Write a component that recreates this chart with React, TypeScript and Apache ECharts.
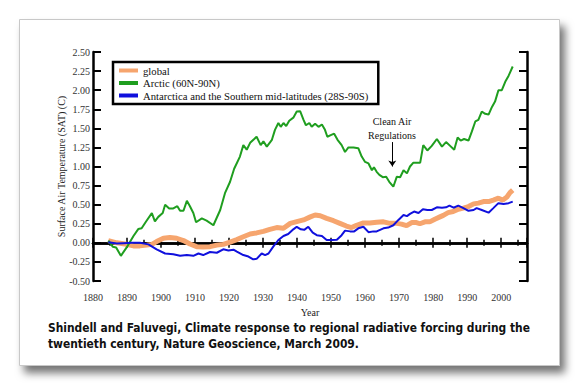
import React, { useEffect, useRef } from "react";
import * as echarts from "echarts";

const seriesNames = [
  "global",
  "Arctic (60N-90N)",
  "Antarctica and the Southern mid-latitudes (28S-90S)",
];

const globalData: [number, number][] = [
  [1884.5, 0.03], [1887, 0.0], [1889.4, -0.015], [1891.9, -0.04], [1893.8, -0.04],
  [1895.8, -0.03], [1897.3, -0.02], [1898.7, 0.016], [1900.7, 0.06], [1902.6, 0.07],
  [1904.6, 0.06], [1906.6, 0.03], [1908.5, -0.015], [1910.5, -0.05], [1912.4, -0.055],
  [1914.4, -0.05], [1916.4, -0.03], [1918.3, -0.02], [1920.3, 0.01], [1922.3, 0.043],
  [1924.2, 0.08], [1926.2, 0.116], [1928.1, 0.13], [1930.1, 0.15], [1932, 0.177],
  [1934, 0.2], [1936, 0.19], [1938, 0.255], [1939.9, 0.277], [1941.9, 0.3],
  [1943.9, 0.34], [1945.3, 0.365], [1946.8, 0.355], [1948.7, 0.32], [1950.7, 0.29],
  [1952.6, 0.255], [1954.5, 0.22], [1956, 0.2], [1957.5, 0.23], [1959.5, 0.26],
  [1961.4, 0.26], [1963.4, 0.27], [1965.4, 0.275], [1967.3, 0.255], [1969.3, 0.255],
  [1970.7, 0.245], [1972.2, 0.225], [1973.7, 0.265], [1975.1, 0.265], [1976.1, 0.25],
  [1977.6, 0.275], [1979, 0.275], [1980.5, 0.31], [1982, 0.34], [1983, 0.36],
  [1984.4, 0.395], [1985.9, 0.41], [1987.4, 0.44], [1988.9, 0.455], [1990.4, 0.475],
  [1991.9, 0.51], [1993.3, 0.52], [1994.8, 0.54], [1996.3, 0.54], [1997.7, 0.56],
  [1999.2, 0.585], [2000.5, 0.56], [2001.7, 0.6], [2002.6, 0.657], [2003.4, 0.69],
];

const arcticData: [number, number][] = [
  [1884.5, 0.03], [1885.8, -0.05], [1886.8, -0.06], [1888.2, -0.17], [1889.9, -0.06],
  [1891.9, 0.09], [1893.3, 0.18], [1894.3, 0.19], [1895.6, 0.28], [1897.3, 0.39],
  [1898.2, 0.28], [1899.2, 0.34], [1900.5, 0.39], [1901.2, 0.5], [1902.4, 0.45],
  [1903.6, 0.45], [1904.8, 0.48], [1905.6, 0.42], [1906.6, 0.42], [1907.6, 0.55],
  [1908.5, 0.48], [1909.5, 0.39], [1910.3, 0.27], [1912, 0.32], [1913.4, 0.29],
  [1915.4, 0.23], [1917.4, 0.43], [1918.8, 0.65], [1920.3, 0.8], [1921.5, 0.97],
  [1923.2, 1.13], [1924.2, 1.28], [1925.2, 1.22], [1926.2, 1.31], [1927.4, 1.36],
  [1928.1, 1.39], [1929.3, 1.28], [1930.1, 1.33], [1931.1, 1.26], [1932.6, 1.35],
  [1933.5, 1.48], [1934.5, 1.57], [1935.2, 1.52], [1936, 1.57], [1936.8, 1.53],
  [1937.7, 1.6], [1938.9, 1.64], [1939.9, 1.72], [1940.9, 1.725], [1941.9, 1.61],
  [1942.6, 1.54], [1943.6, 1.57], [1944.3, 1.52], [1945.3, 1.56], [1946.3, 1.52],
  [1947.3, 1.55], [1948.2, 1.48], [1948.9, 1.39], [1949.9, 1.41], [1950.9, 1.43],
  [1951.9, 1.35], [1953.1, 1.28], [1954.1, 1.19], [1955.1, 1.25], [1956.6, 1.25],
  [1958, 1.24], [1959, 1.13], [1960, 1.06], [1961, 1.04], [1962, 0.95],
  [1962.6, 0.99], [1963.4, 0.93], [1964.2, 0.89], [1965.2, 0.86], [1966.2, 0.865],
  [1967.1, 0.8], [1968.3, 0.735], [1969.3, 0.865], [1970.3, 0.86], [1971.3, 0.95],
  [1972.3, 0.91], [1973.2, 1.0], [1974.2, 1.05], [1976.2, 1.05], [1977.1, 1.28],
  [1978.3, 1.21], [1979.6, 1.27], [1981.1, 1.36], [1982.6, 1.26], [1983.8, 1.32],
  [1985, 1.27], [1986.2, 1.22], [1987.2, 1.38], [1988.1, 1.34], [1989.1, 1.36],
  [1990.4, 1.34], [1991.4, 1.46], [1992.4, 1.59], [1993.3, 1.61], [1994.3, 1.72],
  [1995.3, 1.69], [1996.3, 1.68], [1997.3, 1.78], [1998.2, 1.85], [1999.2, 2.0],
  [2000.2, 2.0], [2001.2, 2.11], [2002.2, 2.19], [2003.4, 2.31],
];

const southData: [number, number][] = [
  [1884.5, 0.007], [1887, -0.01], [1888.9, -0.005], [1891.4, 0.0], [1893.8, 0.0],
  [1896.3, -0.02], [1898.7, -0.085], [1901.2, -0.14], [1903.6, -0.15], [1905.6, -0.17],
  [1907.6, -0.16], [1909.5, -0.17], [1911, -0.14], [1912.4, -0.16], [1914.4, -0.12],
  [1916.4, -0.13], [1918.3, -0.085], [1919.8, -0.1], [1921.3, -0.09], [1922.3, -0.116],
  [1924.2, -0.16], [1925.7, -0.18], [1927.1, -0.216], [1928.1, -0.21], [1929.6, -0.14],
  [1930.6, -0.16], [1931.6, -0.14], [1933, -0.05], [1934.5, 0.037], [1936, 0.09],
  [1937.4, 0.116], [1938.9, 0.177], [1939.9, 0.21], [1941.1, 0.177], [1942.1, 0.17],
  [1943.3, 0.21], [1944.6, 0.133], [1945.8, 0.1], [1947.3, 0.09], [1948.7, 0.037],
  [1950.2, 0.037], [1951.7, 0.04], [1953.1, 0.1], [1954.1, 0.16], [1955.6, 0.15],
  [1956.8, 0.15], [1958, 0.19], [1959.5, 0.21], [1961, 0.14], [1962.4, 0.15],
  [1963.4, 0.15], [1965.4, 0.19], [1966.8, 0.2], [1968.3, 0.23], [1969.8, 0.3],
  [1971.3, 0.365], [1972.3, 0.35], [1973.2, 0.38], [1974.4, 0.41], [1975.7, 0.39],
  [1977, 0.44], [1978.3, 0.43], [1979.6, 0.43], [1981.1, 0.465], [1982.6, 0.46],
  [1983.8, 0.465], [1984.8, 0.487], [1986, 0.46], [1987.4, 0.487], [1988.9, 0.455],
  [1990.4, 0.42], [1991.9, 0.43], [1992.8, 0.455], [1994.3, 0.43], [1996.3, 0.395],
  [1997.7, 0.455], [1999.2, 0.52], [2000.7, 0.51], [2002.2, 0.52], [2003.4, 0.54],
];

const arrowFrom: [number, number] = [1968, 1.32];
const arrowTo: [number, number] = [1968, 1.0];

const captionLines = [
  "Shindell and Faluvegi, Climate response to regional radiative forcing during the",
  "twentieth century, Nature Geoscience, March 2009.",
];
const annotationLines = ["Clean Air", "Regulations"];

const SERIF = "'Liberation Serif', 'Times New Roman', serif";
const NARROW = "'DejaVu Sans Condensed', 'Liberation Sans', sans-serif";

export default function App() {
  const ref = useRef<HTMLDivElement>(null);
  useEffect(() => {
    const chart = echarts.init(ref.current!, null, { renderer: "svg" });
    const xCommon = {
      type: "value",
      min: 1880,
      max: 2007.6,
      interval: 10,
      splitLine: { show: false },
      axisLine: { show: true, lineStyle: { color: "#000", width: 2.5 } },
      axisTick: { show: true, inside: true, length: 5, lineStyle: { color: "#000", width: 1.5 } },
      minorTick: { show: true, splitNumber: 2, length: 3, lineStyle: { color: "#000", width: 1.5 } },
    };
    const yCommon = {
      type: "value",
      min: -0.5,
      max: 2.5,
      interval: 0.25,
      splitLine: { show: false },
      axisLine: { show: true, lineStyle: { color: "#000", width: 2.5 } },
      axisTick: { show: true, inside: true, length: 8, lineStyle: { color: "#000", width: 2 } },
    };
    chart.setOption({
      animation: false,
      backgroundColor: "#fff",
      grid: { left: 93, right: 53, top: 52, bottom: 105, containLabel: false },
      xAxis: [
        {
          ...xCommon,
          position: "bottom",
          name: "Year",
          nameLocation: "middle",
          nameGap: 26,
          nameMoveOverlap: false,
          nameTextStyle: { fontFamily: SERIF, fontSize: 10, color: "#222" },
          axisLabel: {
            show: true,
            margin: 11,
            fontFamily: SERIF,
            fontSize: 10,
            color: "#333",
            showMaxLabel: false,
            formatter: (v: number) => (Math.abs(v % 10) < 1e-6 ? String(v) : ""),
          },
        },
        { ...xCommon, position: "top", axisLabel: { show: false } },
      ],
      yAxis: [
        {
          ...yCommon,
          position: "left",
          name: "Surface Air Temperature (SAT) (C)",
          nameLocation: "middle",
          nameRotate: 90,
          nameGap: 27,
          nameMoveOverlap: false,
          nameTextStyle: { fontFamily: SERIF, fontSize: 10, color: "#222" },
          axisLabel: {
            show: true,
            margin: 3,
            fontFamily: SERIF,
            fontSize: 10,
            color: "#333",
            formatter: (v: number) => v.toFixed(2),
          },
        },
        { ...yCommon, position: "right", axisLabel: { show: false } },
      ],
      legend: {
        data: seriesNames,
        orient: "vertical",
        left: 113,
        top: 62,
        padding: [3, 10, 3, 6],
        itemGap: 1.5,
        itemWidth: 19,
        itemHeight: 4,
        icon: "rect",
        borderColor: "#000",
        borderWidth: 2.5,
        backgroundColor: "#fff",
        textStyle: { fontFamily: SERIF, fontSize: 10.7, color: "#111", lineHeight: 11 },
      },
      graphic: [
        {
          type: "rect",
          z: -10,
          silent: true,
          shape: { x: 19.5, y: 19.5, width: 540, height: 346 },
          style: {
            fill: "#fff",
            stroke: "#c8c8c8",
            lineWidth: 1,
            shadowBlur: 8,
            shadowColor: "rgba(0,0,0,0.55)",
            shadowOffsetX: 5,
            shadowOffsetY: 7,
          },
        },
        ...annotationLines.map((t, i) => ({
          type: "text",
          x: 392,
          y: 121.5 + i * 13.5,
          silent: true,
          style: {
            text: t,
            fontFamily: SERIF,
            fontSize: 10,
            fill: "#111",
            textAlign: "center",
            textVerticalAlign: "middle",
          },
        })),
        ...captionLines.map((t, i) => ({
          type: "text",
          x: 48,
          y: 327 + i * 16,
          scaleX: 0.915,
          silent: true,
          style: {
            text: t,
            fontFamily: NARROW,
            fontWeight: "bold",
            fontSize: 13,
            fill: "#111",
            textAlign: "left",
            textVerticalAlign: "middle",
          },
        })),
      ],
      series: [
        {
          name: seriesNames[0],
          type: "line",
          data: globalData,
          color: "#f6a56e",
          showSymbol: false,
          symbol: "none",
          lineStyle: { width: 5, color: "#f6a56e" },
          z: 2,
        },
        {
          name: seriesNames[1],
          type: "line",
          data: arcticData,
          color: "#1f9e1f",
          showSymbol: false,
          symbol: "none",
          lineStyle: { width: 2, color: "#1f9e1f" },
          z: 3,
          markLine: {
            silent: true,
            symbol: ["none", "arrow"],
            symbolSize: 6,
            label: { show: false },
            lineStyle: { color: "#000", width: 1, type: "solid" },
            data: [[{ coord: arrowFrom }, { coord: arrowTo }]],
          },
        },
        {
          name: seriesNames[2],
          type: "line",
          data: southData,
          color: "#1010dd",
          showSymbol: false,
          symbol: "none",
          lineStyle: { width: 2, color: "#1010dd" },
          z: 4,
        },
      ],
    });
    return () => chart.dispose();
  }, []);
  return (
    <div
      ref={ref}
      style={{ position: "fixed", left: 0, top: 0, width: 580, height: 386, background: "#fff" }}
    />
  );
}
